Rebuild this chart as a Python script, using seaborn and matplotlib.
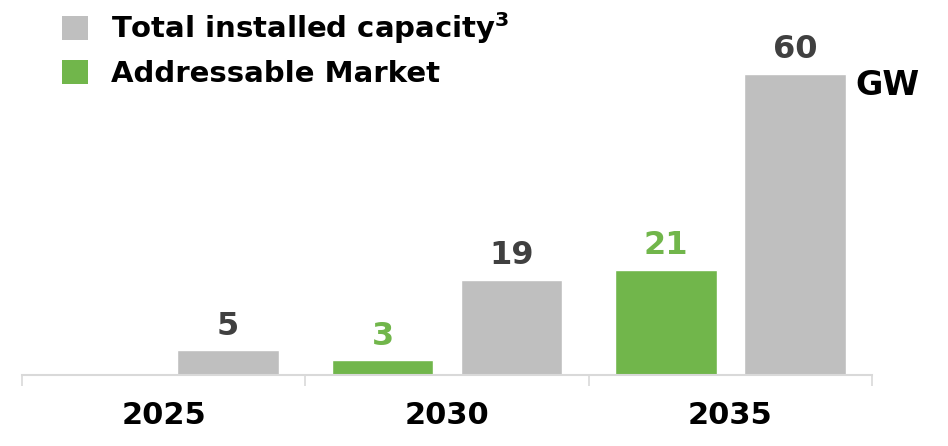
import numpy as np
import pandas as pd
import matplotlib
matplotlib.use("Agg")
import matplotlib.pyplot as plt
import seaborn as sns
from matplotlib.patches import Patch

# data
years = ["2025", "2030", "2035"]
addressable = [np.nan, 3, 21]
total = [5, 19, 60]
series_names = ["Addressable Market", r"Total installed capacity$^{\mathbf{3}}$"]

GREY = "#BFBFBF"
GREEN = "#71B64B"
LABEL_GREY = "#404040"

df = pd.DataFrame({
    "year": years * 2,
    "series": [series_names[0]] * 3 + [series_names[1]] * 3,
    "value": addressable + total,
})

sns.set_style("white")
plt.rcParams["font.family"] = ["DejaVu Sans"]
plt.rcParams["text.color"] = "black"
plt.rcParams["xtick.color"] = "black"
plt.rcParams["mathtext.fontset"] = "dejavusans"

fig = plt.figure(figsize=(9.48, 4.46), dpi=100)
ax = fig.add_axes([22 / 948, 71 / 446, 850 / 948, 355 / 446])

sns.barplot(data=df, x="year", y="value", hue="series", hue_order=series_names,
            palette=[GREEN, GREY], width=0.91, gap=0.21, legend=False,
            saturation=1, ax=ax)

ax.set_xlim(-0.5, 2.5)
ax.set_ylim(0, 70.7)

# value labels
label_colors = [GREEN, LABEL_GREY]
for cont, col in zip(ax.containers, label_colors):
    ax.bar_label(cont, fmt="%g", padding=6, color=col, fontsize=23, fontweight="bold")

# axis styling
for side in ["top", "left", "right"]:
    ax.spines[side].set_visible(False)
ax.spines["bottom"].set_color("#D9D9D9")
ax.spines["bottom"].set_linewidth(1.5)
ax.set_yticks([])
ax.set_xlabel("")
ax.set_ylabel("")
ax.set_xticks([-0.5, 0.5, 1.5, 2.5], minor=True)
ax.tick_params(axis="x", which="minor", bottom=True, length=8, width=1.2, color="#D9D9D9")
ax.tick_params(axis="x", which="major", bottom=False, length=0, pad=19, labelsize=22,
               labelcolor="black")
for t in ax.get_xticklabels():
    t.set_fontweight("bold")

ax.text(0.98, 0.815, "GW", transform=ax.transAxes, ha="left", va="center",
        fontsize=24, fontweight="bold", color="black")

# legend
handles = [Patch(facecolor=GREY, edgecolor="none"), Patch(facecolor=GREEN, edgecolor="none")]
leg = fig.legend(handles, [series_names[1], series_names[0]], loc="upper left",
                 bbox_to_anchor=(56 / 948, 1 - 4 / 446), frameon=False,
                 prop={"size": 21, "weight": "bold"}, handlelength=0.88, handleheight=0.88,
                 handletextpad=0.8, labelspacing=0.5, borderaxespad=0, borderpad=0.2)
for t in leg.get_texts():
    t.set_color("black")

fig.savefig("out.png", dpi=100)
